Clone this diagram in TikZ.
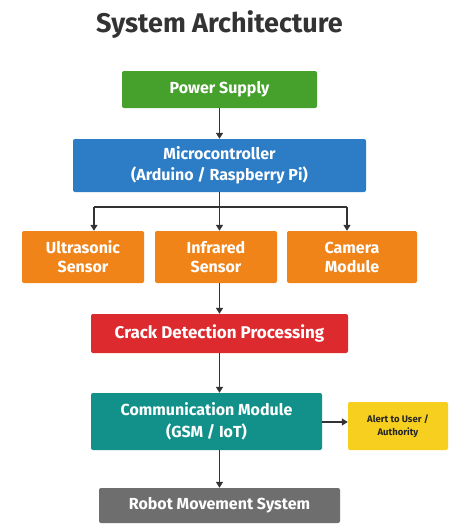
\documentclass[tikz,border=0pt]{standalone}
\usepackage{fontspec}
\setmainfont{Fira Sans}
\usetikzlibrary{arrows.meta}
\definecolor{cgreen}{HTML}{45A02C}
\definecolor{cblue}{HTML}{2C7CC6}
\definecolor{corange}{HTML}{F08419}
\definecolor{cred}{HTML}{DD2A2F}
\definecolor{cteal}{HTML}{12918A}
\definecolor{cyellow}{HTML}{F7CF1E}
\definecolor{cgray}{HTML}{6E6E6E}
\definecolor{carrow}{HTML}{333333}
\tikzset{
  box/.style={rounded corners=2pt, inner sep=0pt, align=center, font=\fontsize{16}{21}\selectfont\bfseries, text=white},
  conn/.style={draw=carrow, line width=1.4pt, -{Triangle[length=6pt,width=7pt]}},
  line/.style={draw=carrow, line width=1.4pt}
}
\begin{document}
\begin{tikzpicture}[x=1pt,y=-1pt]
\useasboundingbox (0,0) rectangle (448,525);
\fill[white] (0,0) rectangle (448,525);
\node[font=\fontsize{27}{30}\selectfont\bfseries, text=black!80] (title) at (219.5,25) {System Architecture};
\node[box, fill=cgreen, minimum width=195pt, minimum height=37pt] (ps) at (219.5,89.5) {Power Supply};
\node[box, fill=cblue, minimum width=293pt, minimum height=53pt] (mc) at (219.5,165.5) {Microcontroller\\(Arduino / Raspberry Pi)};
\node[box, fill=corange, minimum width=122pt, minimum height=52pt, font=\fontsize{16}{19}\selectfont\bfseries] (us) at (83,257) {Ultrasonic\\Sensor};
\node[box, fill=corange, minimum width=122pt, minimum height=52pt, font=\fontsize{16}{19}\selectfont\bfseries] (ir) at (216,257) {Infrared\\Sensor};
\node[box, fill=corange, minimum width=130pt, minimum height=52pt, font=\fontsize{16}{19}\selectfont\bfseries] (cam) at (352,257) {Camera\\Module};
\node[box, fill=cred, minimum width=257pt, minimum height=39pt, font=\fontsize{17}{20}\selectfont\bfseries] (cd) at (219.5,333.5) {Crack Detection Processing};
\node[box, fill=cteal, minimum width=231pt, minimum height=57pt, font=\fontsize{16}{22}\selectfont\bfseries] (cm) at (206.5,421.5) {Communication Module\\(GSM / IoT)};
\node[box, fill=cyellow, minimum width=100pt, minimum height=48pt, text=black!85, font=\fontsize{9.5}{13}\selectfont\bfseries] (al) at (398,426) {Alert to User /\\Authority};
\node[box, fill=cgray, minimum width=241pt, minimum height=35pt] (rb) at (219.5,505.5) {Robot Movement System};
\coordinate (jn) at (219.5,207);
\coordinate (jl) at (94,207);
\coordinate (jr) at (347,207);
\draw[conn] (ps) -- (mc);
\draw[line] (mc.south) -- (jn);
\draw[line] (jl) -- (jr);
\draw[conn] (jl) -- (jl |- us.north);
\draw[conn] (jn) -- (jn |- ir.north);
\draw[conn] (jr) -- (jr |- cam.north);
\draw[conn] (ir.south -| cd.north) -- (cd.north);
\draw[conn] (cd) -- (cd.south |- cm.north);
\draw[conn] (cm.east |- 0,422) -- (al.west |- 0,422);
\draw[conn] (cm.south -| rb.north) -- (rb.north);
\end{tikzpicture}
\end{document}
